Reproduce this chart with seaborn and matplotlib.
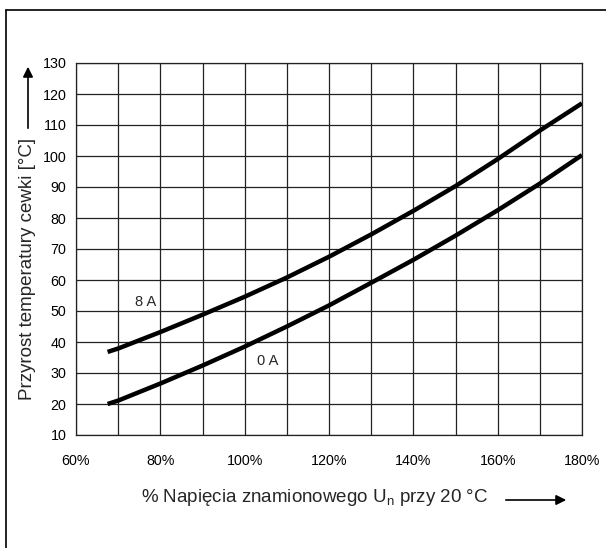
import numpy as np
import pandas as pd
import matplotlib
matplotlib.use("Agg")
import matplotlib.pyplot as plt
import seaborn as sns

# values
napiecie = [67.5, 70, 80, 90, 100, 110, 120, 130, 140, 150, 160, 170, 180]
przyrost_8a = [36.8, 37.9, 43.2, 48.8, 54.6, 60.8, 67.5, 74.7, 82.3, 90.3, 99.0, 108.2, 117.0]
przyrost_0a = [20.0, 21.1, 26.6, 32.4, 38.5, 45.0, 51.8, 59.1, 66.5, 74.3, 82.5, 91.1, 100.3]
x_ticks = [60, 80, 100, 120, 140, 160, 180]
y_ticks = [10, 20, 30, 40, 50, 60, 70, 80, 90, 100, 110, 120, 130]

df = pd.DataFrame({
    "napiecie": napiecie * 2,
    "przyrost": przyrost_8a + przyrost_0a,
    "prad": ["8 A"] * len(napiecie) + ["0 A"] * len(napiecie),
})

sns.set_style("white")
plt.rcParams["font.family"] = ["Liberation Sans", "DejaVu Sans"]

W, H = 606, 548
fig = plt.figure(figsize=(W / 100, H / 100), dpi=100)
ax = fig.add_axes([76 / W, 1 - 435 / H, (582 - 76) / W, (435 - 63) / H])

sns.lineplot(data=df, x="napiecie", y="przyrost", hue="prad",
             palette={"8 A": "black", "0 A": "black"}, linewidth=3.2,
             legend=False, ax=ax, solid_capstyle="butt", solid_joinstyle="round")

ax.set_xlim(60, 180)
ax.set_ylim(10, 130)
ax.set_xticks(np.arange(60, 181, 10), minor=True)
ax.set_xticks(x_ticks)
ax.set_xticklabels([f"{t}%" for t in x_ticks])
ax.set_yticks(y_ticks)
ax.grid(True, which="both", color="#222222", linewidth=0.9)
ax.set_axisbelow(True)
ax.tick_params(axis="both", which="both", length=0, labelsize=10.3, colors="black")
ax.tick_params(axis="x", pad=14)
ax.tick_params(axis="y", pad=7)
for s in ax.spines.values():
    s.set_color("#222222")
    s.set_linewidth(0.9)
ax.set_xlabel("")
ax.set_ylabel("")

ax.text(76.4, 52.9, "8 A", fontsize=10.5, ha="center", va="center")
ax.text(105.5, 33.9, "0 A", fontsize=10.5, ha="center", va="center")

# axis titles with arrows
fig.text(28 / W, 1 - 269 / H, "Przyrost temperatury cewki [°C]", rotation=90,
         fontsize=13.5, ha="center", va="center")
fig.add_artist(matplotlib.patches.FancyArrowPatch(
    (28 / W, 1 - 131 / H), (28 / W, 1 - 64 / H), transform=fig.transFigure,
    arrowstyle="-|>,head_length=6,head_width=3", color="black", linewidth=1.2))

fig.text(315 / W, 1 - 497 / H, "% Napięcia znamionowego U$_\\mathregular{n}$ przy 20 °C",
         fontsize=13.5, ha="center", va="center")
fig.add_artist(matplotlib.patches.FancyArrowPatch(
    (503 / W, 1 - 500 / H), (569 / W, 1 - 500 / H), transform=fig.transFigure,
    arrowstyle="-|>,head_length=6,head_width=3", color="black", linewidth=1.2))

# outer frame (only left and top edges visible)
fig.add_artist(plt.Line2D([6 / W, 6 / W], [0, 1 - 10 / H], transform=fig.transFigure,
                          color="black", linewidth=1.2))
fig.add_artist(plt.Line2D([6 / W, 1], [1 - 10 / H, 1 - 10 / H], transform=fig.transFigure,
                          color="black", linewidth=1.2))

fig.savefig("out.png", dpi=100)
